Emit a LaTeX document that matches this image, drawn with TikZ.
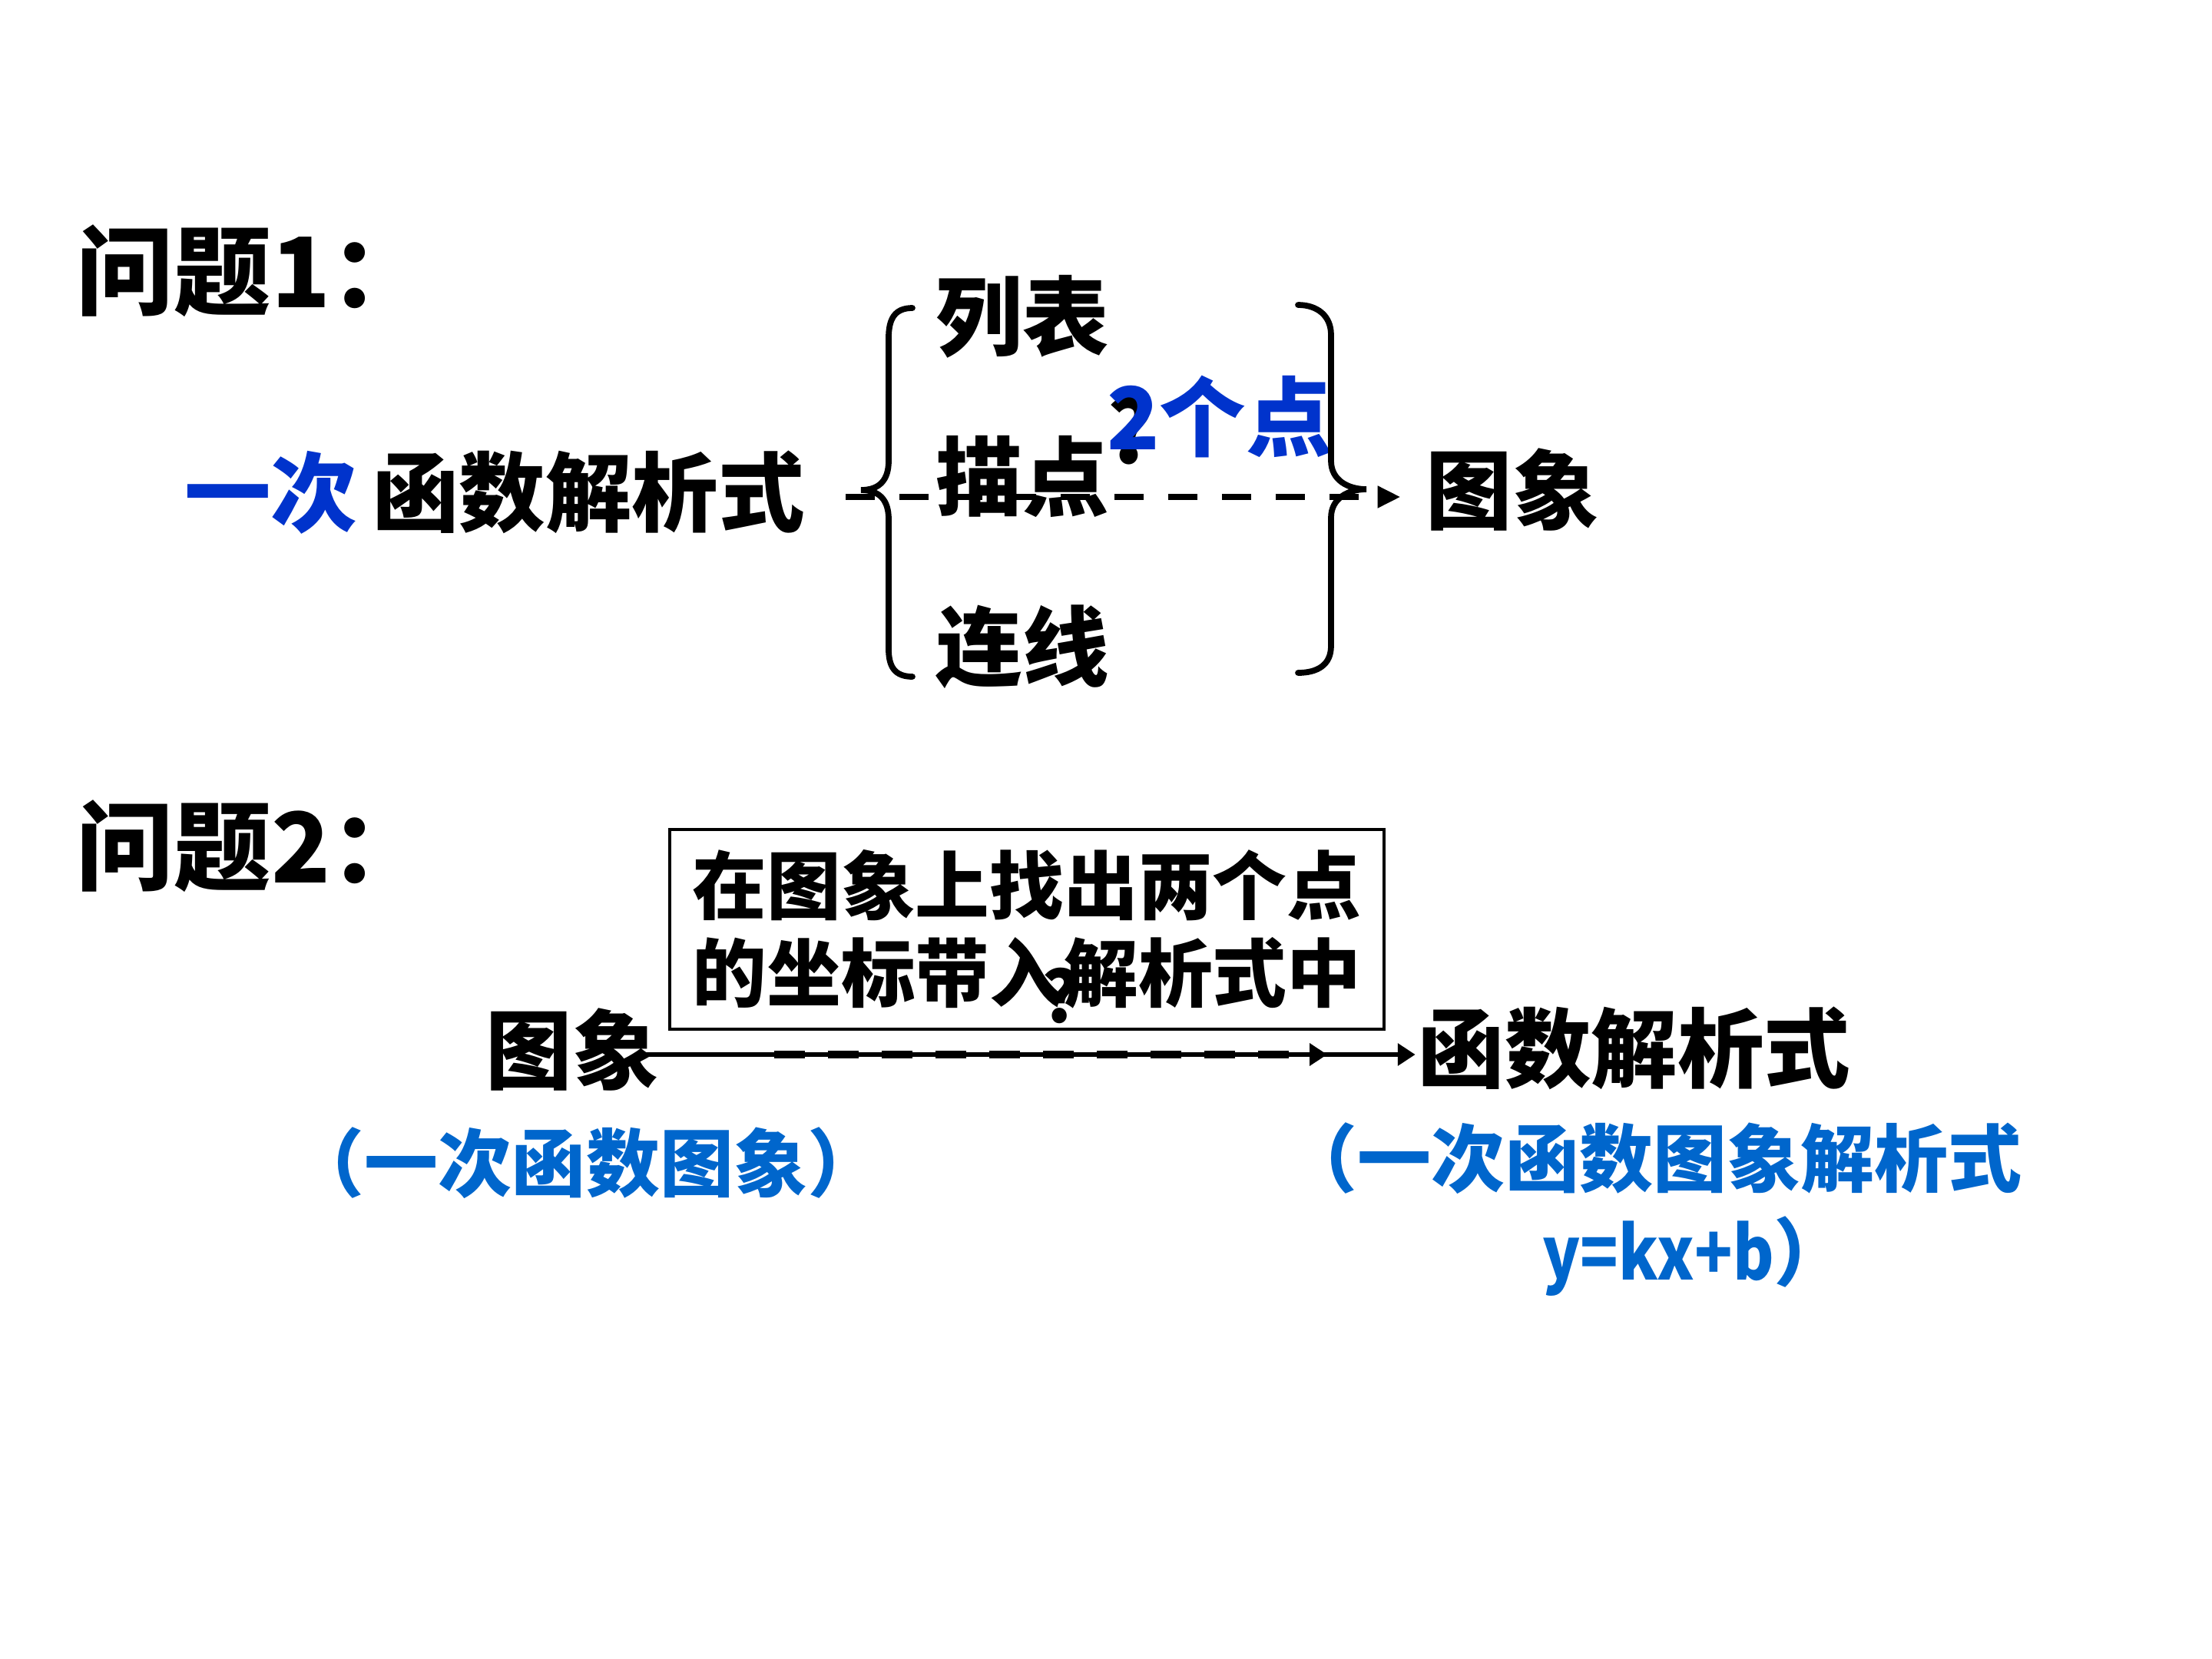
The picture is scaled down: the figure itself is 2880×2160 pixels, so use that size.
\documentclass[tikz,border=0pt]{standalone}
\usepackage{fontspec}
\setmainfont{Noto Sans CJK SC}
\usetikzlibrary{arrows.meta}
\definecolor{darkblue}{RGB}{0,51,204}
\definecolor{labblue}{RGB}{0,102,204}
\begin{document}
\begin{tikzpicture}[x=0.01cm,y=-0.01cm,
  every node/.style={inner sep=0pt, outer sep=0pt},
  ttl/.style={font=\fontsize{36pt}{42pt}\selectfont\bfseries, anchor=west},
  big/.style={font=\fontsize{32pt}{38pt}\selectfont\bfseries},
  boxtxt/.style={font=\fontsize{27.5pt}{32.4pt}\selectfont\bfseries, align=center, draw, line width=1pt, minimum width=9.29cm, minimum height=2.6cm},
  lab/.style={font=\fontsize{27.3pt}{34.7pt}\selectfont\bfseries, text=labblue, align=center},
  brace/.style={line width=2.2pt, line cap=round},
  dashone/.style={line width=2.5pt, dash pattern=on 10.8pt off 9.1pt, -{Triangle[length=8.5pt,width=7.7pt]}},
  dashtwo/.style={line width=2.7pt, dash pattern=on 11.4pt off 8.5pt, -{Triangle[length=6.5pt,width=8pt]}},
  arrtwo/.style={line width=1.8pt, -{Triangle[length=6.5pt,width=8pt]}}
]
\useasboundingbox (0,0) rectangle (2880,2160);

% Problem 1
\node[ttl] (q1) at (100,353) {问题1：};
\node[big, anchor=west] (expr) at (240,641) {\textcolor{darkblue}{一次}\hspace{0.18em}函数解析式};
\node[big] (lb) at (1331,412) {列表};
\node[big] (md) at (1331,620) {描点};
\node[big] (lx) at (1331,842) {连线};
\node[big] (img1) at (1969,638) {图象};
\node[big] (qm1) at (1472,560) {?};
\node[big, text=darkblue] (twop) at (1588,543) {2个点};

\draw[brace] (1188,401) .. controls (1165,401) and (1157,415) .. (1157,440) -- (1157,600) .. controls (1157,625) and (1145,638) .. (1121,638) .. controls (1145,638) and (1157,651) .. (1157,676) -- (1157,845) .. controls (1157,868) and (1165,881) .. (1188,881);
\draw[brace] (1690,397) .. controls (1715,397) and (1733,411) .. (1733,436) -- (1733,600) .. controls (1733,625) and (1755,637) .. (1779,637) .. controls (1755,637) and (1733,649) .. (1733,674) -- (1733,841) .. controls (1733,866) and (1715,876) .. (1690,876);

\coordinate (a1s) at (1101,647);
\draw[dashone] (a1s) -- ([xshift=-3.3mm]img1.west |- a1s);

% Problem 2
\node[ttl] (q2) at (100,1102) {问题2：};
\node[boxtxt] (box) at (1337,1210) {在图象上找出两个点\\的坐标带入解析式中};
\node[font=\fontsize{26pt}{30pt}\selectfont\bfseries] (qm2) at (1381,1296) {?};
\node[big] (img2) at (745,1366) {图象};
\node[big] (fn2) at (2128,1365) {函数解析式};

\coordinate (a2s) at (830,1373);
\coordinate (d1) at (1008,1373);
\coordinate (h1) at (1728,1373);
\draw[arrtwo] (a2s) -- ([xshift=-0.4mm]fn2.west |- a2s);
\draw[dashtwo] (d1) -- (h1);

\node[lab] (lab1) at (763,1514) {（一次函数图象）};
\node[lab] (lab2) at (2152,1575) {（一次函数图象解析式\\\hspace{1.1cm}\scalebox{0.85}[1]{y=kx+b}）};
\end{tikzpicture}
\end{document}
